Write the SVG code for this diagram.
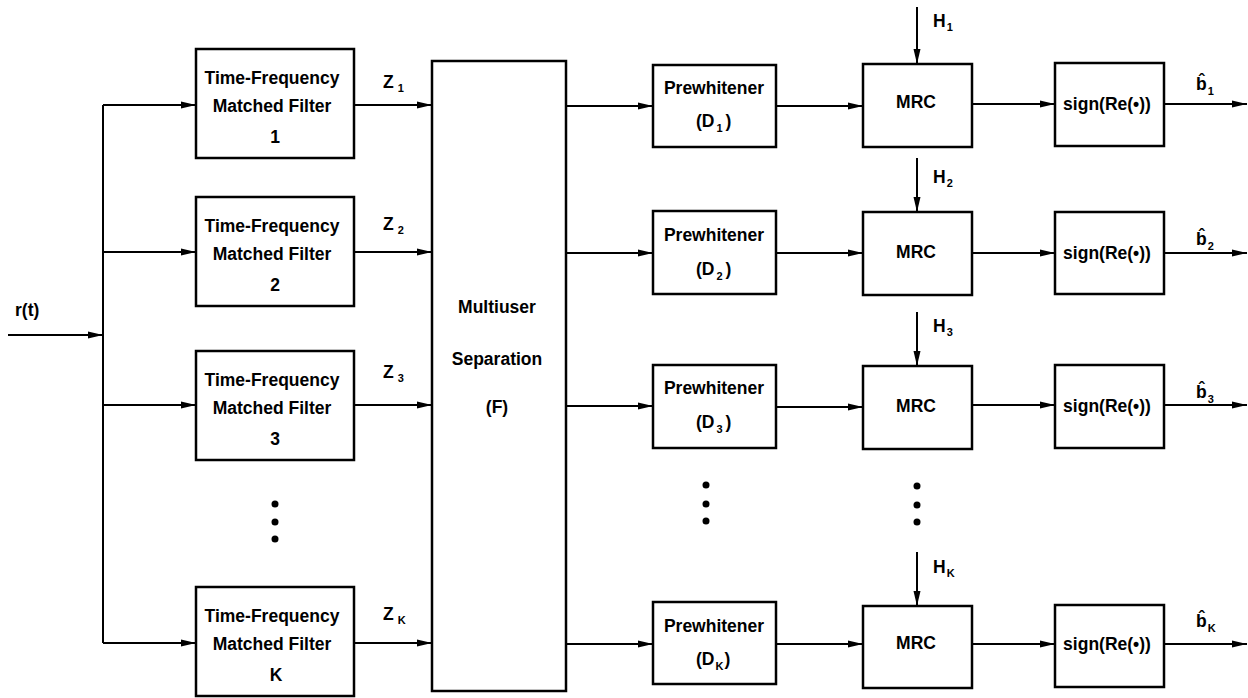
<svg xmlns="http://www.w3.org/2000/svg" width="1248" height="698" viewBox="0 0 1248 698">
<defs>
<marker id="ah" markerUnits="userSpaceOnUse" markerWidth="16" markerHeight="8" refX="15" refY="4" orient="auto">
<path d="M0,0.5 L15,4 L0,7.5 z" fill="#000"/>
</marker>
<style>
.box{fill:#fff;stroke:#000;stroke-width:2.5}
.t{font-family:"Liberation Sans",Arial,sans-serif;font-weight:bold;font-size:17.5px;fill:#000}
.c{text-anchor:middle}
.s{font-size:11px}
.ln{fill:none;stroke:#000;stroke-width:2;marker-end:url(#ah)}
.pl{fill:none;stroke:#000;stroke-width:2}
</style>
</defs>
<rect width="1248" height="698" fill="#fff"/>

<g id="connectors">
<path class="pl" d="M103,105 V643"/>
<path class="ln" d="M8,335 H103"/>
<path class="ln" d="M103,105 H196"/>
<path class="ln" d="M103,252 H196"/>
<path class="ln" d="M103,405 H196"/>
<path class="ln" d="M103,643 H196"/>
<path class="ln" d="M354,105 H432"/>
<path class="ln" d="M354,252 H432"/>
<path class="ln" d="M354,405 H432"/>
<path class="ln" d="M354,643 H432"/>
<path class="ln" d="M566,106 H653"/>
<path class="ln" d="M566,253 H653"/>
<path class="ln" d="M566,406 H653"/>
<path class="ln" d="M566,644 H653"/>
<path class="ln" d="M776,106 H863"/>
<path class="ln" d="M776,253 H863"/>
<path class="ln" d="M776,407 H863"/>
<path class="ln" d="M776,644 H863"/>
<path class="ln" d="M972,104 H1055"/>
<path class="ln" d="M972,253 H1055"/>
<path class="ln" d="M972,405 H1055"/>
<path class="ln" d="M972,644 H1055"/>
<path class="ln" d="M1164,104 H1247"/>
<path class="ln" d="M1164,253 H1247"/>
<path class="ln" d="M1164,405 H1247"/>
<path class="ln" d="M1164,644 H1247"/>
<path class="ln" d="M917,7 V64"/>
<path class="ln" d="M917,158 V212"/>
<path class="ln" d="M917,312 V366"/>
<path class="ln" d="M917,552 V606"/>
</g>

<g id="labels">
<text class="t" x="15" y="316">r(t)</text>
<text class="t" x="383" y="88">Z<tspan class="s" dx="4" dy="4">1</tspan></text>
<text class="t" x="383" y="230">Z<tspan class="s" dx="4" dy="4">2</tspan></text>
<text class="t" x="383" y="378">Z<tspan class="s" dx="4" dy="4">3</tspan></text>
<text class="t" x="383" y="620">Z<tspan class="s" dx="4" dy="4">K</tspan></text>
<text class="t" x="933" y="27">H<tspan class="s" dx="1" dy="4">1</tspan></text>
<text class="t" x="933" y="183">H<tspan class="s" dx="1" dy="4">2</tspan></text>
<text class="t" x="933" y="332">H<tspan class="s" dx="1" dy="4">3</tspan></text>
<text class="t" x="933" y="573">H<tspan class="s" dx="1" dy="4">K</tspan></text>
<text class="t" x="1196" y="90">b&#x302;<tspan class="s" dx="1" dy="5">1</tspan></text>
<text class="t" x="1196" y="245">b&#x302;<tspan class="s" dx="1" dy="5">2</tspan></text>
<text class="t" x="1196" y="398">b&#x302;<tspan class="s" dx="1" dy="5">3</tspan></text>
<text class="t" x="1196" y="627">b&#x302;<tspan class="s" dx="1" dy="5">K</tspan></text>
</g>

<g id="mf1"><rect class="box" x="196" y="49" width="158" height="109"/>
<text class="t c" x="272" y="84">Time-Frequency</text><text class="t c" x="272" y="112">Matched Filter</text><text class="t c" x="275" y="143">1</text></g>
<g id="mf2"><rect class="box" x="196" y="197" width="158" height="109"/>
<text class="t c" x="272" y="232">Time-Frequency</text><text class="t c" x="272" y="260">Matched Filter</text><text class="t c" x="275" y="291">2</text></g>
<g id="mf3"><rect class="box" x="196" y="351" width="158" height="109"/>
<text class="t c" x="272" y="386">Time-Frequency</text><text class="t c" x="272" y="414">Matched Filter</text><text class="t c" x="275" y="445">3</text></g>
<g id="mfK"><rect class="box" x="196" y="587" width="158" height="109"/>
<text class="t c" x="272" y="622">Time-Frequency</text><text class="t c" x="272" y="650">Matched Filter</text><text class="t c" x="276" y="681">K</text></g>
<g id="dots1"><circle cx="275" cy="504" r="3.5"/><circle cx="275" cy="522" r="3.5"/><circle cx="275" cy="539" r="3.5"/></g>

<g id="mus"><rect class="box" x="432" y="61" width="134" height="630"/>
<text class="t c" x="497" y="313">Multiuser</text><text class="t c" x="497" y="365">Separation</text><text class="t c" x="497" y="413">(F)</text></g>

<g id="pw1"><rect class="box" x="653" y="65" width="123" height="82"/>
<text class="t c" x="714" y="94">Prewhitener</text><text class="t" x="696" y="127">(D<tspan class="s" dx="2" dy="5">1</tspan><tspan dx="3" dy="-5">)</tspan></text></g>
<g id="pw2"><rect class="box" x="653" y="211" width="123" height="83"/>
<text class="t c" x="714" y="241">Prewhitener</text><text class="t" x="696" y="275">(D<tspan class="s" dx="2" dy="5">2</tspan><tspan dx="3" dy="-5">)</tspan></text></g>
<g id="pw3"><rect class="box" x="653" y="365" width="123" height="83"/>
<text class="t c" x="714" y="394">Prewhitener</text><text class="t" x="696" y="428">(D<tspan class="s" dx="2" dy="5">3</tspan><tspan dx="3" dy="-5">)</tspan></text></g>
<g id="pwK"><rect class="box" x="653" y="602" width="123" height="82"/>
<text class="t c" x="714" y="632">Prewhitener</text><text class="t" x="696" y="665">(D<tspan class="s" dx="1" dy="5">K</tspan><tspan dx="1" dy="-5">)</tspan></text></g>
<g id="dots2"><circle cx="706" cy="485" r="3.5"/><circle cx="706" cy="504" r="3.5"/><circle cx="706" cy="521" r="3.5"/></g>

<g id="mrc1"><rect class="box" x="863" y="64" width="109" height="83"/><text class="t c" x="916" y="108">MRC</text></g>
<g id="mrc2"><rect class="box" x="863" y="212" width="109" height="83"/><text class="t c" x="916" y="258">MRC</text></g>
<g id="mrc3"><rect class="box" x="863" y="366" width="109" height="83"/><text class="t c" x="916" y="412">MRC</text></g>
<g id="mrcK"><rect class="box" x="863" y="606" width="109" height="82"/><text class="t c" x="916" y="649">MRC</text></g>
<g id="dots3"><circle cx="917" cy="486" r="3.5"/><circle cx="917" cy="505" r="3.5"/><circle cx="917" cy="522" r="3.5"/></g>

<g id="sg1"><rect class="box" x="1055" y="63" width="109" height="83"/><text class="t c" x="1107" y="110">sign(Re(•))</text></g>
<g id="sg2"><rect class="box" x="1055" y="212" width="109" height="82"/><text class="t c" x="1107" y="259">sign(Re(•))</text></g>
<g id="sg3"><rect class="box" x="1055" y="365" width="109" height="83"/><text class="t c" x="1107" y="412">sign(Re(•))</text></g>
<g id="sgK"><rect class="box" x="1055" y="605" width="109" height="82"/><text class="t c" x="1107" y="650">sign(Re(•))</text></g>
</svg>
